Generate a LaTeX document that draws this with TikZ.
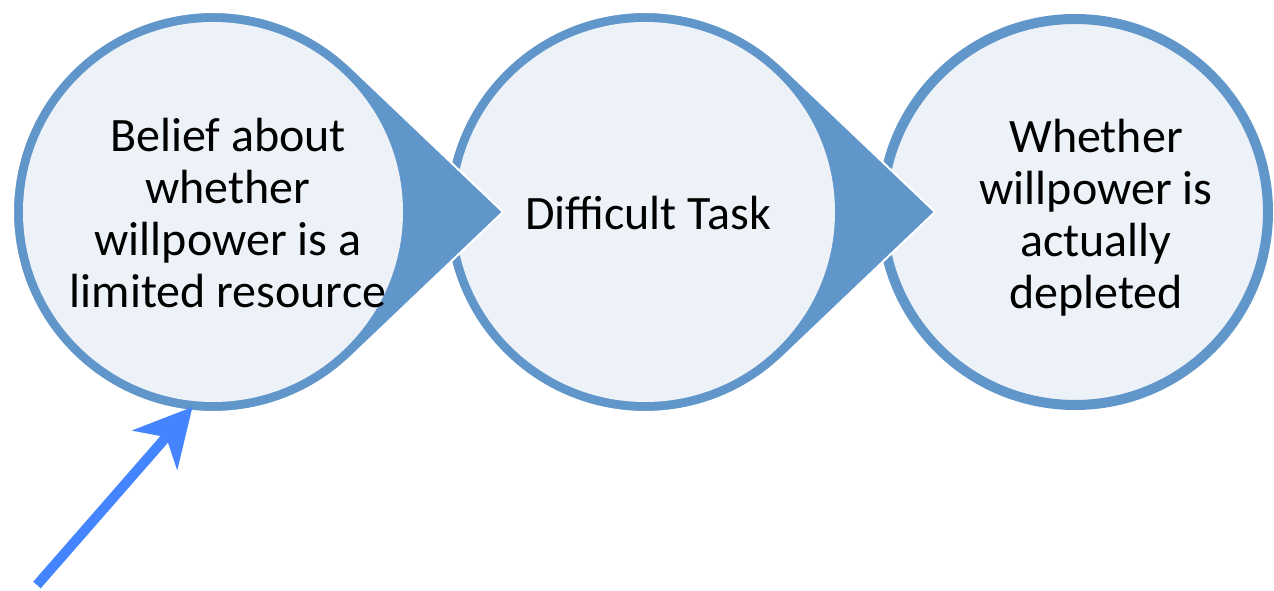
\documentclass[tikz,border=0pt]{standalone}
\usepackage{fontspec}
\setmainfont{Carlito}
\usetikzlibrary{arrows.meta,calc}
\definecolor{ringblue}{HTML}{6096C9}
\definecolor{paleblue}{HTML}{EDF2F9}
\definecolor{pointer}{HTML}{4485FF}

\begin{document}
\begin{tikzpicture}
	[x=1pt, y=1pt,
	every node/.style={inner sep=0pt, outer sep=0pt},
	core/.style={circle, fill=paleblue, minimum size=380pt, outer sep=6pt},
	ring/.style={circle, fill=paleblue, draw=ringblue, line width=10pt, minimum size=386pt},
	words/.style={align=center, font=\fontsize{48}{52}\selectfont}]
	\useasboundingbox (0,0) rectangle (1274,591);
	\node (c3) [ring] at (1075,379) {};
	\foreach \x/\n in {645/2, 213/1} {
		\fill [ringblue, draw=white, line width=2pt]
		($(\x,379)+(46.4:200pt)$) -- (\x+290,379) -- ($(\x,379)+(-46.4:200pt)$)
		arc [start angle=-46.4, end angle=-313.6, radius=200pt] -- cycle;
		\node (c\n) [core] at (\x,379) {};
	}
	\node (t1) [words] at (228,378) {Belief about\\whether\\willpower is a\\limited resource};
	\node (t2) [words] at (648,378) {Difficult Task};
	\node (t3) [words] at (1096,373) {Whether\\willpower is\\actually\\depleted};
	\coordinate (tail) at (37,6);
	\draw [pointer, line width=10pt, -{Stealth[length=57pt, width=59pt, inset=17pt]}] (tail) -- (c1.-96);
\end{tikzpicture}
\end{document}
